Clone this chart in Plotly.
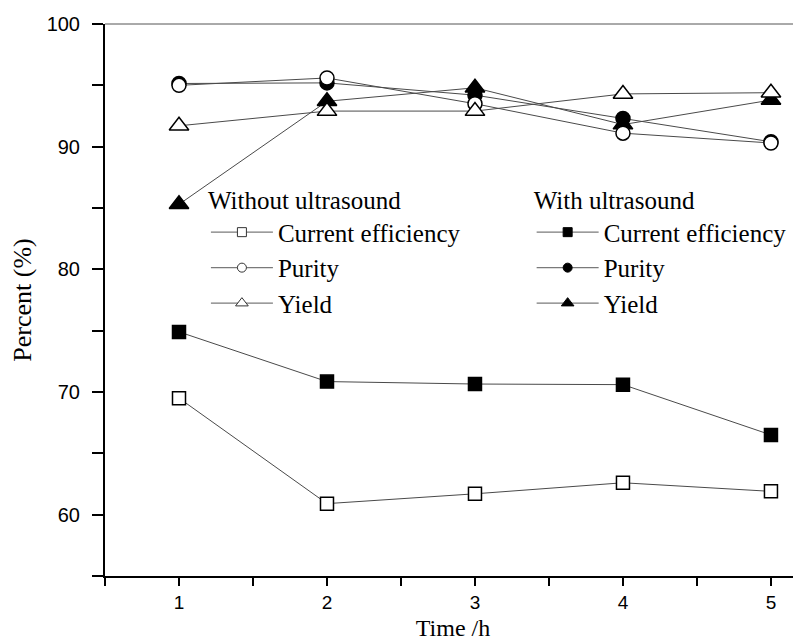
import plotly.graph_objects as go

time_h = [1, 2, 3, 4, 5]

ce_without = [69.5, 60.9, 61.7, 62.6, 61.9]
purity_without = [95.0, 95.6, 93.5, 91.1, 90.3]
yield_without = [91.7, 92.9, 92.9, 94.3, 94.4]

ce_with = [74.9, 70.85, 70.65, 70.6, 66.5]
purity_with = [95.15, 95.2, 94.2, 92.3, 90.4]
yield_with = [85.3, 93.7, 94.8, 91.8, 93.8]

series = [
    ("Current efficiency", ce_without, "square", False, "legend", 13),
    ("Purity", purity_without, "circle", False, "legend", 14),
    ("Yield", yield_without, "triangle-up", False, "legend", 17),
    ("Current efficiency", ce_with, "square", True, "legend2", 13),
    ("Purity", purity_with, "circle", True, "legend2", 14),
    ("Yield", yield_with, "triangle-up", True, "legend2", 17),
]

LINE_COLOR = "#4a4a4a"
SERIF = "Liberation Serif"
SANS = "Liberation Sans"
LEG_SIZE = 25

fig = go.Figure()

# data traces: filled first so open markers sit on top like the reference
draw_order = [3, 4, 5, 0, 1, 2]
for i in draw_order:
    name, vals, sym, filled, leg, size = series[i]
    fig.add_trace(go.Scatter(
        x=time_h, y=vals, mode="lines+markers", name=name,
        showlegend=False,
        line=dict(color=LINE_COLOR, width=1),
        marker=dict(symbol=sym, size=size,
                    color="black" if filled else "white",
                    line=dict(color="black", width=1.5)),
    ))

# legend entries (smaller markers as in the reference legend)
for name, vals, sym, filled, leg, size in series:
    fig.add_trace(go.Scatter(
        x=[None], y=[None], mode="lines+markers", name=name, legend=leg,
        line=dict(color="#7a7a7a", width=1.2),
        marker=dict(symbol=sym, size=9 if sym != "triangle-up" else 11,
                    color="black" if filled else "white",
                    line=dict(color="#333333" if not filled else "black", width=1)),
    ))

legend_common = dict(
    bgcolor="rgba(0,0,0,0)", borderwidth=0,
    font=dict(family=SERIF, size=LEG_SIZE, color="black"),
    xanchor="left", yanchor="top", tracegroupgap=0,
    itemwidth=62,
)

fig.update_layout(
    width=793, height=633,
    margin=dict(l=97, r=0, t=16, b=65),
    paper_bgcolor="white", plot_bgcolor="white",
    legend=dict(title=dict(text="Without ultrasound", font=dict(family=SERIF, size=LEG_SIZE, color="black")),
                x=0.145, y=0.723, **legend_common),
    legend2=dict(title=dict(text="With ultrasound", font=dict(family=SERIF, size=LEG_SIZE, color="black")),
                 x=0.613, y=0.723, **legend_common),
    xaxis=dict(
        range=[0.5, 5.203], tick0=1, dtick=1,
        ticks="outside", ticklen=8, tickwidth=1.5, tickcolor="black",
        showline=True, linecolor="black", linewidth=2,
        showgrid=False, zeroline=False,
        minor=dict(dtick=0.5, tick0=0.5, ticks="outside", ticklen=8, tickwidth=1.5, tickcolor="black"),
        tickfont=dict(family=SANS, size=19, color="black"),
        ticklabelstandoff=0,
        title=dict(text="Time /h", font=dict(family=SERIF, size=24, color="black"), standoff=9),
    ),
    yaxis=dict(
        range=[55, 100], tick0=60, dtick=10,
        ticks="outside", ticklen=11, tickwidth=1.5, tickcolor="black",
        showline=True, linecolor="black", linewidth=2,
        showgrid=False, zeroline=False,
        minor=dict(dtick=5, tick0=55, ticks="outside", ticklen=11, tickwidth=1.5, tickcolor="black"),
        tickfont=dict(family=SANS, size=20, color="black"),
        ticklabelstandoff=8,
        title=dict(text="Percent (%)", font=dict(family=SERIF, size=26, color="black"), standoff=10),
    ),
    shapes=[dict(type="line", xref="paper", yref="paper", x0=0, x1=1, y0=1, y1=1,
                 line=dict(color="#555555", width=1))],
)

fig.write_html("out.html")
